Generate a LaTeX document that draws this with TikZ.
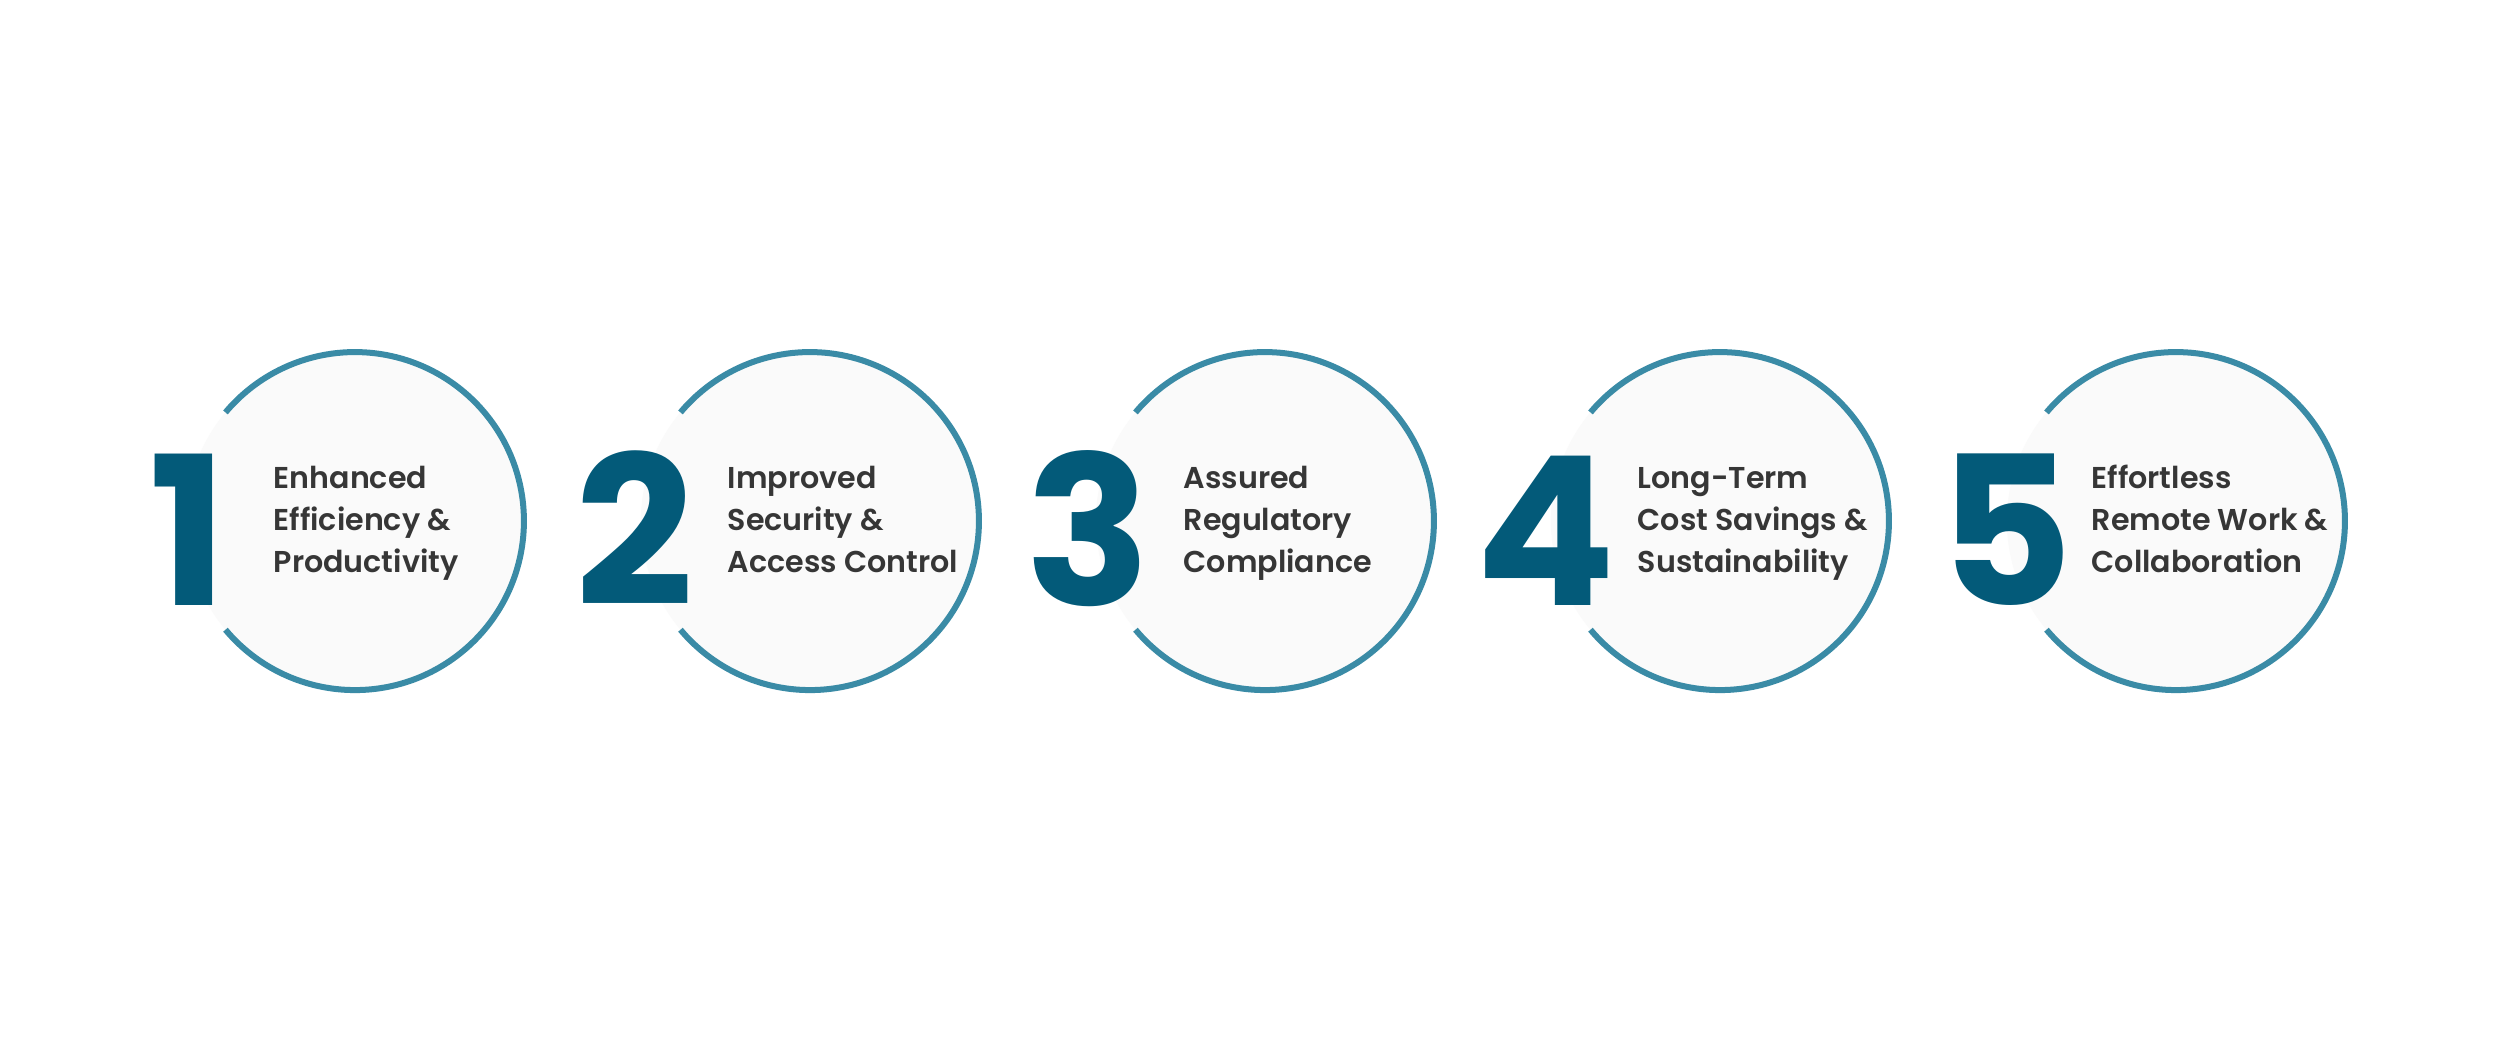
\documentclass[tikz,border=0pt]{standalone}
\usepackage{fontspec}
\setmainfont{Poppins}
\newfontfamily\numfont{Poppins Bold}
\newfontfamily\txtfont{Poppins SemiBold}
\definecolor{ringcol}{HTML}{3A8BA6}
\definecolor{numcol}{HTML}{035A79}
\definecolor{txtcol}{HTML}{363636}
\definecolor{diskcol}{HTML}{FAFAFA}
\newcommand\threelines[3]{\vtop{\baselineskip=11.95pt\hbox{#1}\hbox{#2}\hbox{#3}}}
\begin{document}
\begin{tikzpicture}[x=0.01cm,y=0.01cm,
  disk/.style={circle,fill=diskcol,draw=none,minimum size=3.38cm,inner sep=0pt,outer sep=0pt},
  ringline/.style={draw=ringcol,line width=0.06cm},
  digit/.style={text=numcol,font=\numfont\fontsize{59}{59}\selectfont,inner sep=0pt,anchor=base},
  benefit/.style={text=txtcol,font=\txtfont\fontsize{8.57}{11.95}\selectfont,inner sep=0pt,anchor=base west}]
\fill[white] (0,0) rectangle (2500,-1042);
\useasboundingbox (0,0) rectangle (2500,-1042);
% disks
\node[disk] (c1) at (355,-521) {};
\node[disk] (c2) at (810,-521) {};
\node[disk] (c3) at (1265,-521) {};
\node[disk] (c4) at (1720,-521) {};
\node[disk] (c5) at (2176,-521) {};
% rings with gap on the left
\foreach \i in {1,...,5}
  \draw[ringline] (c\i.-140) arc[start angle=-140,end angle=140,radius=169];
% digits
\node[digit] (n1) at (188.5,-605) {1};
\node[digit] (n2) at (634.5,-605) {2};
\node[digit] (n3) at (1088.5,-605) {3};
\node[digit] (n4) at (1546,-605) {4};
\node[digit] (n5) at (2005.5,-605) {5};
% texts
\node[benefit] (t1) at (273,-488) {\threelines{Enhanced}{Efficiency \&}{Productivity}};
\node[benefit] (t2) at (727,-488) {\threelines{Improved}{Security \&}{Access Control}};
\node[benefit] (t3) at (1183,-488) {\threelines{Assured}{Regulatory}{Compliance}};
\node[benefit] (t4) at (1637,-488) {\threelines{Long-Term}{Cost Savings \&}{Sustainability}};
\node[benefit] (t5) at (2091,-488) {\threelines{Effortless}{Remote Work \&}{Collaboration}};
\end{tikzpicture}
\end{document}
